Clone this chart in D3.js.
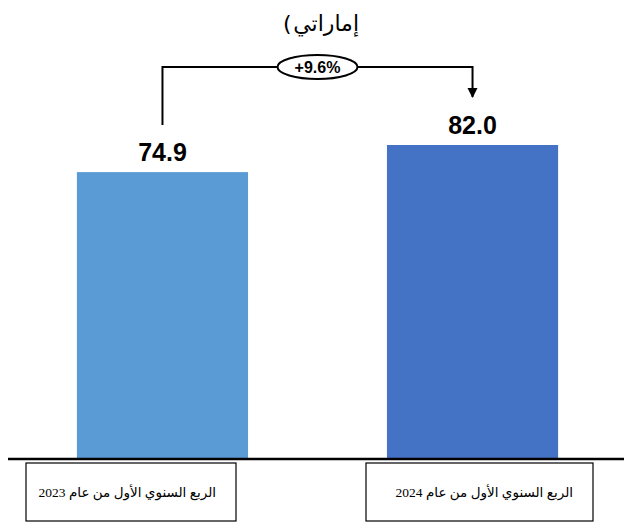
<!DOCTYPE html>
<html>
<head>
<meta charset="utf-8">
<script src="https://cdn.jsdelivr.net/npm/d3@7"></script>
<style>
  body { margin: 0; background: #fff; }
  svg { display: block; }
</style>
</head>
<body>
<div id="chart"></div>
<script>
var categories = ["الربع السنوي الأول من عام  2023", "الربع السنوي الأول من عام  2024"];
var values = [74.9, 82.0];
var valueLabels = ["74.9", "82.0"];
var changeLabel = "+9.6%";
var colors = ["#5B9BD5", "#4472C4"];

var w = 624, h = 525;
var base = 458;

var svg = d3.select("#chart")
  .append("svg")
    .attr("width", w)
    .attr("height", h);

var x = d3.scaleBand()
  .domain(categories)
  .range([0, 635])
  .paddingInner(0.448)
  .paddingOuter(0.248);

var y = d3.scaleLinear()
  .domain([0, 82])
  .range([base, 145]);

// title (cut off in the original), paren drawn separately to dodge bidi
svg.append("text")
  .attr("x", 359)
  .attr("y", 31)
  .attr("text-anchor", "end")
  .style("font-family", "'DejaVu Sans', sans-serif")
  .style("font-size", "22px")
  .text("إماراتي");

svg.append("text")
  .attr("x", 283)
  .attr("y", 31)
  .attr("text-anchor", "start")
  .style("font-family", "'DejaVu Sans', sans-serif")
  .style("font-size", "22px")
  .text("(");

// bars
svg.selectAll("rect.bar")
  .data(values)
  .enter().append("rect")
    .attr("class", "bar")
    .attr("x", function(d, i) { return x(categories[i]); })
    .attr("y", function(d) { return y(d); })
    .attr("width", x.bandwidth())
    .attr("height", function(d) { return base - y(d); })
    .attr("fill", function(d, i) { return colors[i]; });

// value labels
svg.selectAll("text.val")
  .data(values)
  .enter().append("text")
    .attr("class", "val")
    .attr("x", function(d, i) { return x(categories[i]) + x.bandwidth() / 2; })
    .attr("y", function(d) { return y(d) - 11; })
    .attr("text-anchor", "middle")
    .style("font-family", "Arial, 'Liberation Sans', sans-serif")
    .style("font-weight", "bold")
    .style("font-size", "25px")
    .text(function(d, i) { return valueLabels[i]; });

// baseline
svg.append("line")
  .attr("x1", 8).attr("x2", w)
  .attr("y1", base + 1).attr("y2", base + 1)
  .attr("stroke", "#000")
  .attr("stroke-width", 2.5);

// category boxes
var boxW = [210, 227];
var boxX = [26, 366];
var boxes = svg.selectAll("g.cat")
  .data(categories)
  .enter().append("g")
    .attr("class", "cat");

boxes.append("rect")
  .attr("x", function(d, i) { return boxX[i]; })
  .attr("y", 463)
  .attr("width", function(d, i) { return boxW[i]; })
  .attr("height", 58)
  .attr("fill", "#fff")
  .attr("stroke", "#000")
  .attr("stroke-width", 1.2);

boxes.append("text")
  .attr("x", function(d, i) { return boxX[i] + boxW[i] - 20; })
  .attr("y", 497)
  .attr("text-anchor", "end")
  .style("font-family", "'Liberation Serif', 'DejaVu Sans', serif")
  .style("font-size", "13.5px")
  .text(function(d) { return d; });

// change bracket
var cx0 = x(categories[0]) + x.bandwidth() / 2;
var cx1 = x(categories[1]) + x.bandwidth() / 2;
var topY = 67;

svg.append("defs").append("marker")
  .attr("id", "arrow")
  .attr("viewBox", "0 0 10 10")
  .attr("refX", 9).attr("refY", 5)
  .attr("markerWidth", 5).attr("markerHeight", 6)
  .attr("markerUnits", "strokeWidth")
  .attr("orient", "auto")
  .append("path")
    .attr("d", "M0,0L10,5L0,10Z")
    .attr("fill", "#000");

svg.append("path")
  .attr("d", "M" + cx0 + "," + (y(values[0]) - 47) + "V" + topY + "H" + cx1 + "V" + 97)
  .attr("fill", "none")
  .attr("stroke", "#000")
  .attr("stroke-width", 2)
  .attr("marker-end", "url(#arrow)");

var mid = (cx0 + cx1) / 2;
svg.append("ellipse")
  .attr("cx", mid).attr("cy", topY)
  .attr("rx", 40).attr("ry", 12)
  .attr("fill", "#fff")
  .attr("stroke", "#000")
  .attr("stroke-width", 2);

svg.append("text")
  .attr("x", mid)
  .attr("y", topY + 6)
  .attr("text-anchor", "middle")
  .style("font-family", "Arial, 'Liberation Sans', sans-serif")
  .style("font-weight", "bold")
  .style("font-size", "16px")
  .text(changeLabel);
</script>
</body>
</html>
